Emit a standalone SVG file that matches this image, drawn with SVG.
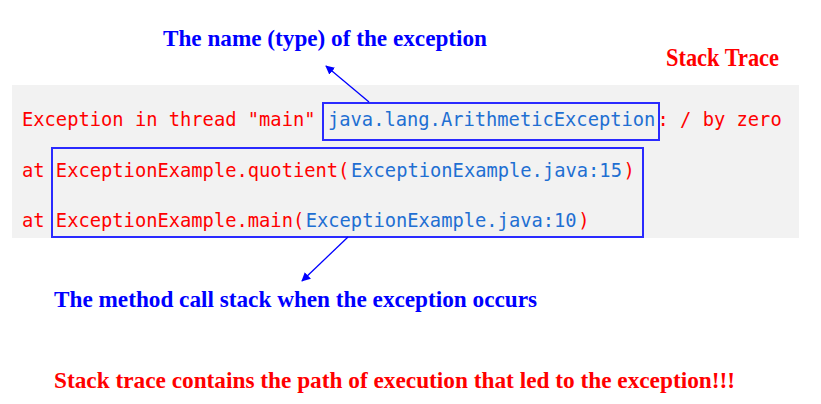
<svg xmlns="http://www.w3.org/2000/svg" width="821" height="404" viewBox="0 0 821 404">
<style>
.t{font-family:"Liberation Serif","Times New Roman",serif;font-weight:bold;}
.b{fill:#0000ff}
.r{fill:#ff0000}
.m{font-family:"DejaVu Sans Mono","Liberation Mono",monospace;font-size:18.75px;}
.mr{fill:#ff0000}
.mb{fill:#1f6fd2}
.box{fill:none;stroke:#2a2aff;stroke-width:2}
.conn{stroke:#0000ff;stroke-width:1.3;fill:none}
</style>
<defs>
<marker id="ah" viewBox="0 0 10 10" refX="9" refY="5" markerWidth="9" markerHeight="9" markerUnits="userSpaceOnUse" orient="auto">
<path d="M0,0 L10,5 L0,10 z" fill="#0000ff"/>
</marker>
</defs>
<rect x="0" y="0" width="821" height="404" fill="#ffffff"/>
<g id="trace">
<rect x="12" y="85" width="787" height="153" fill="#f2f2f2"/>
<text class="m mr" x="22" y="126">Exception in thread "main"</text>
<text class="m mb" x="328" y="126">java.lang.ArithmeticException</text>
<text class="m mr" x="657.5" y="126">: / by zero</text>
<text class="m mr" x="22" y="177">at ExceptionExample.quotient(</text>
<text class="m mb" x="351" y="177">ExceptionExample.java:15</text>
<text class="m mr" x="623.5" y="177">)</text>
<text class="m mr" x="22" y="227">at ExceptionExample.main(</text>
<text class="m mb" x="305.7" y="227">ExceptionExample.java:10</text>
<text class="m mr" x="578.2" y="227">)</text>
</g>
<g id="typeBox"><rect class="box" x="323" y="103" width="336" height="37"/></g>
<g id="stackBox"><rect class="box" x="52" y="148" width="591" height="89"/></g>
<g id="nameLabel"><text class="t b" x="163" y="46" font-size="24" textLength="324" lengthAdjust="spacingAndGlyphs">The name (type) of the exception</text></g>
<g id="stackTraceLabel"><text class="t r" x="666" y="66" font-size="25" textLength="113" lengthAdjust="spacingAndGlyphs">Stack Trace</text></g>
<g id="methodLabel"><text class="t b" x="54" y="307" font-size="24" textLength="483" lengthAdjust="spacingAndGlyphs">The method call stack when the exception occurs</text></g>
<g id="summary"><text class="t r" x="54" y="388" font-size="24" textLength="681" lengthAdjust="spacingAndGlyphs">Stack trace contains the path of execution that led to the exception!!!</text></g>
<g id="connectors">
<line class="conn" x1="369" y1="102" x2="326" y2="66" marker-end="url(#ah)"/>
<line class="conn" x1="348" y1="237" x2="302" y2="281" marker-end="url(#ah)"/>
</g>
</svg>
